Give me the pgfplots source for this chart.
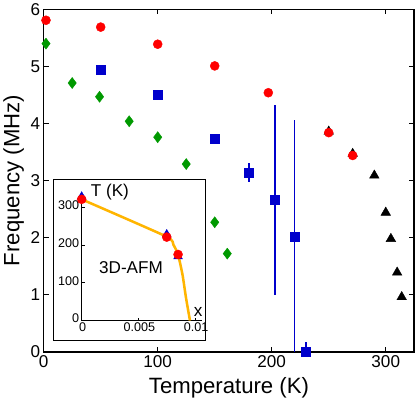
\documentclass[border=0pt]{standalone}
\usepackage{fontspec}
\setmainfont{Liberation Sans}
\usepackage{pgfplots}
\pgfplotsset{compat=1.18}

\definecolor{cred}{rgb}{1,0,0}
\definecolor{cblue}{rgb}{0,0,0.8}
\definecolor{cgreen}{rgb}{0,0.6,0}
\definecolor{corange}{rgb}{1,0.71,0}

\begin{document}
\begin{tikzpicture}
\begin{axis}[
    scale only axis,
    width=368pt, height=340pt,
    xmin=0, xmax=325, ymin=0, ymax=6,
    xtick={0,100,200,300}, ytick={0,1,2,3,4,5,6},
    tick align=inside,
    major tick length=5pt,
    axis line style={line width=1.5pt},
    every tick/.style={black, line width=1.2pt},
    /pgf/number format/assume math mode=true,
    tick label style={font=\fontsize{17}{17}\selectfont},
    xlabel={Temperature (K)},
    ylabel={Frequency (MHz)},
    label style={font=\fontsize{22}{22}\selectfont},
    xlabel style={at={(axis description cs:0.5,-0.106)}, anchor=center},
    ylabel style={at={(axis description cs:-0.081,0.5)}, anchor=center},
]
% black triangles
\addplot[only marks, mark=triangle*, mark size=5.5pt, black] coordinates {
    (250,3.86) (271,3.47) (290,3.09) (300,2.44) (304.5,1.98) (310,1.39) (314,0.96)
};
% red circles
\addplot[only marks, mark=*, mark size=4.5pt, cred] coordinates {
    (2,5.81) (50,5.69) (100,5.39) (150,5.01) (197,4.54) (250,3.84) (271,3.44)
};
% green diamonds
\addplot[only marks, mark=diamond*, mark size=5.5pt, cgreen] coordinates {
    (2,5.40) (25,4.71) (49,4.47) (75,4.04) (100,3.76) (125,3.29) (150,2.27) (161,1.72)
};
% blue squares with error bars
\addplot[only marks, mark=square*, mark size=4.5pt, cblue,
    error bars/.cd, y dir=both, y explicit, error mark=none,
    error bar style={line width=1.5pt, cblue}] coordinates {
    (50,4.95) +- (0,0)
    (100,4.51) +- (0,0)
    (150,3.73) +- (0,0)
    (180,3.14) +- (0,0.17)
    (203,2.66) +- (0,1.66)
    (220,2.02) +- (0,2.05)
    (230,0.00) +- (0,0.17)
};
\draw[line width=1.5pt, fill=white] (axis cs:8.8,0.194) rectangle (axis cs:141.8,3.02);
\coordinate (ins) at (axis cs:33.3,0.547);
\end{axis}

\begin{axis}[
    at={(ins)}, anchor=south west,
    scale only axis,
    width=119.4pt, height=126.4pt,
    xmin=0, xmax=0.0106, ymin=0, ymax=337,
    axis lines=left,
    axis line style={-, line width=1.2pt},
    every tick/.style={black, line width=1pt},
    tick align=inside, major tick length=3pt,
    scaled x ticks=false,
    xtick={0,0.005,0.01}, xticklabels={0,0.005,0.01},
    ytick={0,100,200,300},
    /pgf/number format/assume math mode=true,
    tick label style={font=\fontsize{12.5}{12.5}\selectfont},
    xticklabel style={yshift=1pt, xshift=1pt},
    yticklabel style={xshift=1pt, yshift=2pt},
    clip=false,
]
\addplot[corange, line width=2.5pt, smooth, tension=0.3] coordinates {
    (0,321) (0.0075,222) (0.0081,200) (0.0085,175) (0.0089,120) (0.0092,60) (0.00955,0)
};
\addplot[only marks, mark=triangle*, mark size=5pt, cblue] coordinates {
    (0,328) (0.0075,228) (0.0085,170)
};
\addplot[only marks, mark=*, mark size=4.5pt, cred] coordinates {
    (0,321) (0.0075,221) (0.0085,175)
};
\node[anchor=west, font=\fontsize{17}{17}\selectfont] at (axis cs:0.0005,340) {T (K)};
\node[font=\fontsize{17}{17}\selectfont] at (axis cs:0.00435,140) {3D-AFM};
\node[font=\fontsize{17}{17}\selectfont] at (axis cs:0.01027,24) {x};
\end{axis}
\end{tikzpicture}
\end{document}
